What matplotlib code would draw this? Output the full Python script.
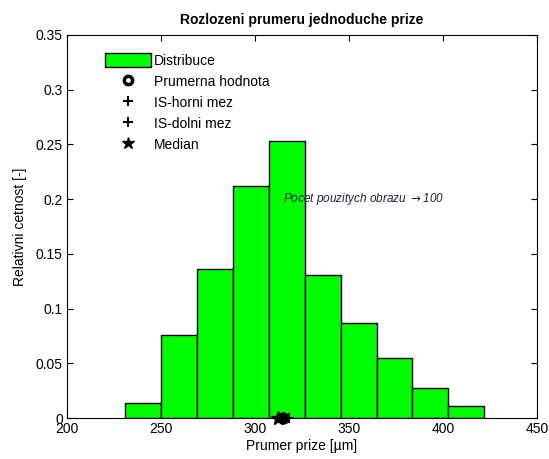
import matplotlib
matplotlib.use('Agg')
import matplotlib.pyplot as plt
from matplotlib.patches import Patch
from matplotlib.lines import Line2D

# histogram data (relative frequency per bin)
bin_edges = [231.0, 250.1, 269.2, 288.3, 307.4, 326.5, 345.6, 364.7, 383.8, 402.9, 422.0]
rel_freq = [0.014, 0.076, 0.136, 0.212, 0.253, 0.131, 0.087, 0.055, 0.027, 0.011]

mean_val = 315.0
median_val = 312.0
ci_upper = 318.0
ci_lower = 312.0
n_images = 100

xticks = [200, 250, 300, 350, 400, 450]
yticks = [0, 0.05, 0.1, 0.15, 0.2, 0.25, 0.3, 0.35]
ytick_labels = ['0', '0.05', '0.1', '0.15', '0.2', '0.25', '0.3', '0.35']

plt.rcParams['font.family'] = ['Liberation Sans', 'DejaVu Sans']
plt.rcParams['font.size'] = 10

fig = plt.figure(figsize=(5.49, 4.59), dpi=100)
ax = fig.add_axes([0.122, 0.0893, 0.856, 0.8347])

widths = [bin_edges[i + 1] - bin_edges[i] for i in range(len(rel_freq))]
ax.bar(bin_edges[:-1], rel_freq, width=widths, align='edge',
       color='#00ff00', edgecolor='black', linewidth=1.0, zorder=2)

ax.plot([ci_upper], [0], '+', color='black', markersize=7, mew=1.5, zorder=3, clip_on=False)
ax.plot([ci_lower], [0], '+', color='black', markersize=7, mew=1.5, zorder=3, clip_on=False)
ax.plot([median_val], [0], '*', color='black', markersize=10, zorder=3, clip_on=False)
ax.plot([mean_val], [0], 'o', color='black', markerfacecolor='black',
        markersize=7, mew=2, zorder=4, clip_on=False)

ax.text(mean_val, 0.2, 'Pocet pouzitych obrazu $\\rightarrow$' + str(n_images),
        fontsize=8.5, style='italic', va='center', ha='left', color='#202040')

ax.set_xlim(200, 450)
ax.set_ylim(0, 0.35)
ax.set_xticks(xticks)
ax.set_yticks(yticks)
ax.set_yticklabels(ytick_labels)
ax.tick_params(direction='in', top=True, right=True, length=4, pad=3)

ax.set_title('Rozlozeni prumeru jednoduche prize', fontweight='bold', fontsize=10, pad=8)
ax.set_xlabel('Prumer prize [\u00b5m]', labelpad=2)
ax.set_ylabel('Relativni cetnost [-]', labelpad=6)

handles = [
    Patch(facecolor='#00ff00', edgecolor='black'),
    Line2D([], [], marker='o', color='black', mfc='white', ls='none', markersize=6, mew=2.5),
    Line2D([], [], marker='+', color='black', ls='none', markersize=7, mew=1.5),
    Line2D([], [], marker='+', color='black', ls='none', markersize=7, mew=1.5),
    Line2D([], [], marker='*', color='black', ls='none', markersize=9),
]
labels = ['Distribuce', 'Prumerna hodnota', 'IS-horni mez', 'IS-dolni mez', 'Median']
ax.legend(handles, labels, loc='upper left', frameon=False, handlelength=3.3,
          handleheight=1.2, handletextpad=0.2, labelspacing=0.45,
          bbox_to_anchor=(0.055, 0.985), borderaxespad=0.5)

fig.savefig('out.png', dpi=100)
